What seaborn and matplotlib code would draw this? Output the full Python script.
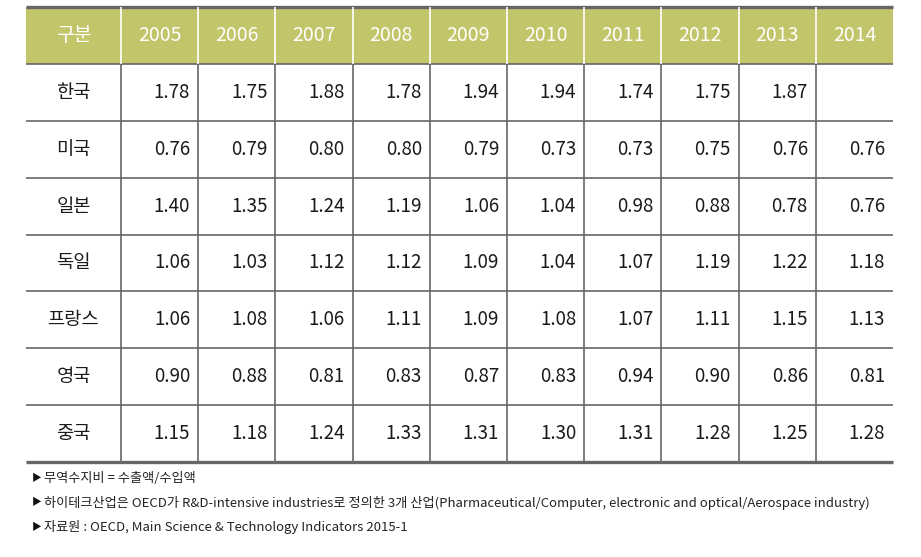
import numpy as np
import pandas as pd
import matplotlib
matplotlib.use('Agg')
import matplotlib.pyplot as plt
from matplotlib.colors import ListedColormap
from matplotlib.patches import Rectangle
import seaborn as sns

# Table data
years = ['2005', '2006', '2007', '2008', '2009', '2010', '2011', '2012', '2013', '2014']
countries = ['한국', '미국', '일본', '독일', '프랑스', '영국', '중국']
korea = [1.78, 1.75, 1.88, 1.78, 1.94, 1.94, 1.74, 1.75, 1.87, np.nan]
usa = [0.76, 0.79, 0.80, 0.80, 0.79, 0.73, 0.73, 0.75, 0.76, 0.76]
japan = [1.40, 1.35, 1.24, 1.19, 1.06, 1.04, 0.98, 0.88, 0.78, 0.76]
germany = [1.06, 1.03, 1.12, 1.12, 1.09, 1.04, 1.07, 1.19, 1.22, 1.18]
france = [1.06, 1.08, 1.06, 1.11, 1.09, 1.08, 1.07, 1.11, 1.15, 1.13]
uk = [0.90, 0.88, 0.81, 0.83, 0.87, 0.83, 0.94, 0.90, 0.86, 0.81]
china = [1.15, 1.18, 1.24, 1.33, 1.31, 1.30, 1.31, 1.28, 1.25, 1.28]
header_label = '구분'
notes = [
    '무역수지비 = 수출액/수입액',
    '하이테크산업은 OECD가 R&D-intensive industries로 정의한 3개 산업(Pharmaceutical/Computer, electronic and optical/Aerospace industry)',
    '자료원 : OECD, Main Science & Technology Indicators 2015-1',
]

values = pd.DataFrame([korea, usa, japan, germany, france, uk, china],
                      index=countries, columns=years)

OLIVE = '#c3c56a'
LINE = '#666666'
FONT = ['Noto Sans CJK KR', 'DejaVu Sans']
plt.rcParams['font.family'] = FONT

# header row flagged 1, body 0, empty cells NaN
colour_grid = np.vstack([np.ones(len(years)), np.where(values.isna(), np.nan, 0.0)])
labels = np.vstack([years, values.map(lambda v: '' if pd.isna(v) else f'{v:.2f}').values])

fig = plt.figure(figsize=(9.21, 5.57), dpi=100)
W, H = 921, 557
left, right, top, bottom = 26, 893, 7, 462
ax = fig.add_axes([left / W, 1 - bottom / H, (right - left) / W, (bottom - top) / H])

sns.heatmap(colour_grid, cmap=ListedColormap(['white', OLIVE]), vmin=0, vmax=1,
            annot=labels, fmt='', cbar=False, ax=ax,
            annot_kws={'fontsize': 13.5, 'color': '#1a1a1a'})

col_w = (right - 121) / len(years)
w0 = (121 - left) / col_w
nrows = len(countries) + 1
ax.set_xlim(-w0, len(years))
ax.set_ylim(nrows, 0)
ax.axis('off')

# align annotations: header centred white, body right aligned
for t in ax.texts:
    x, y = t.get_position()
    if y < 1:
        t.set_color('white')
        t.set_fontsize(14)
    else:
        t.set_ha('right')
        t.set_x(x + 0.5 - 8 / col_w)

# first column
ax.add_patch(Rectangle((-w0, 0), w0, 1, facecolor=OLIVE, edgecolor='none', clip_on=False))
ax.text(-w0 / 2, 0.5, header_label, ha='center', va='center', color='white', fontsize=14)
for i, c in enumerate(countries):
    ax.text(-w0 / 2, i + 1.5, c, ha='center', va='center', color='#1a1a1a', fontsize=13.5)

# grid lines
ax.hlines(range(1, nrows), -w0, len(years), color=LINE, lw=1.2, clip_on=False)
ax.hlines([0, nrows], -w0, len(years), color=LINE, lw=2.4, clip_on=False)
ax.vlines(range(0, len(years)), 1, nrows, color=LINE, lw=1.2, clip_on=False)
ax.vlines(range(0, len(years)), 0, 1, color='white', lw=1.2, clip_on=False)

# footnotes - size so the longest line ends near x=870
renderer = fig.canvas.get_renderer()
note_texts = []
for i, n in enumerate(notes):
    y = 1 - (478 + i * 24.5) / H
    fig.text(32 / W, y, '▶', fontsize=7, va='center', color='#111111')
    note_texts.append(fig.text(44 / W, y, n, fontsize=10, va='center', color='#222222'))
longest = max(t.get_window_extent(renderer).width for t in note_texts)
size = 10 * (870 - 44) / longest
for t in note_texts:
    t.set_fontsize(size)

fig.savefig('out.png', dpi=100)
